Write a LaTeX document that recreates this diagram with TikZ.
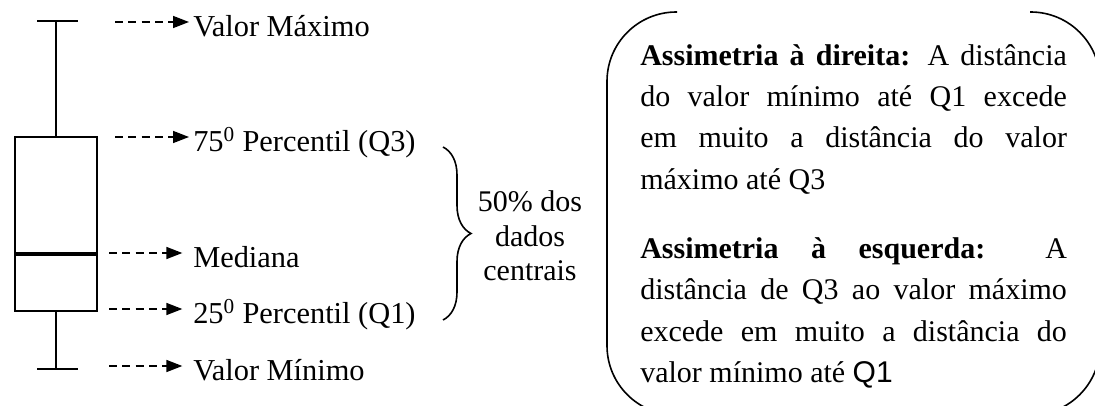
\documentclass[tikz,border=0pt]{standalone}
\usepackage{fontspec}
\setmainfont{Liberation Serif}
\newfontfamily\arialfont{Liberation Sans}
\usetikzlibrary{arrows.meta,decorations.pathreplacing}

\tikzset{
	seta/.style={-{Triangle[length=12pt,width=9pt]}, line width=1.2pt, dash pattern=on 6pt off 4pt},
	rotulo/.style={anchor=west, inner sep=0pt, text height=24pt, text depth=2pt, font=\fontsize{22.8}{27}\selectfont},
	caixa/.style={line width=1.5pt},
	moldura/.style={line width=1.2pt, rounded corners=52pt},
}

\begin{document}
\begin{tikzpicture}[x=0.75pt, y=-0.75pt]
	\useasboundingbox (0,0) rectangle (1095,406);
	\clip (0,0) rectangle (1095,406);

	\draw [caixa] (37,21) -- (78,21);
	\draw [caixa] (56,21) -- (56,137);
	\draw [caixa] (15,137) rectangle (97,311);
	\draw [line width=3.5pt] (15,254) -- (97,254);
	\draw [caixa] (56,311) -- (56,369);
	\draw [caixa] (37,369) -- (78,369);

	\coordinate (smax) at (115,22);
	\coordinate (sq3) at (115,137);
	\coordinate (smed) at (109,253);
	\coordinate (sq1) at (109,309);
	\coordinate (smin) at (109,366);

	\node [rotulo] (vmax) at (193,22) {Valor Máximo};
	\node [rotulo] (q3) at (193,137) {75\textsuperscript{0} Percentil (Q3)};
	\node [rotulo] (med) at (193,253) {Mediana};
	\node [rotulo] (q1) at (193,309) {25\textsuperscript{0} Percentil (Q1)};
	\node [rotulo] (vmin) at (193,366) {Valor Mínimo};

	\draw [seta,shorten >=3pt] (smax) -- (vmax.west);
	\draw [seta,shorten >=3pt] (sq3) -- (q3.west);
	\draw [seta,shorten >=8pt] (smed) -- (med.west);
	\draw [seta,shorten >=8pt] (sq1) -- (q1.west);
	\draw [seta,shorten >=8pt] (smin) -- (vmin.west);

	\coordinate (ch1) at (443,147);
	\coordinate (ch2) at (443,320);
	\draw [decorate, decoration={brace, amplitude=21pt}, line width=1.2pt] (ch1) -- (ch2);
	\node [align=center, inner sep=0pt, font=\fontsize{22.5}{26}\selectfont] (centro) at (530,236) {50\% dos\\dados\\centrais};

	\draw [moldura] (677,12) -- (607,12) -- (607,415) -- (677,415);
	\draw [moldura] (1030,12) -- (1100,12) -- (1100,415) -- (1030,415);

	\node [anchor=north west, inner sep=0pt, text width=320pt, align=justify, font=\fontsize{22.5}{31}\selectfont] (assim) at (640,44) {%
		\makebox[\linewidth][s]{\textbf{Assimetria à direita:} A distância}\\
		\makebox[\linewidth][s]{do valor mínimo até Q1 excede}\\
		\makebox[\linewidth][s]{em muito a distância do valor}\\
		máximo até Q3\\[21pt]
		\makebox[\linewidth][s]{\textbf{Assimetria à esquerda:} A}\\
		\makebox[\linewidth][s]{distância de Q3 ao valor máximo}\\
		\makebox[\linewidth][s]{excede em muito a distância do}\\
		valor mínimo até {\arialfont Q1}};
\end{tikzpicture}
\end{document}
